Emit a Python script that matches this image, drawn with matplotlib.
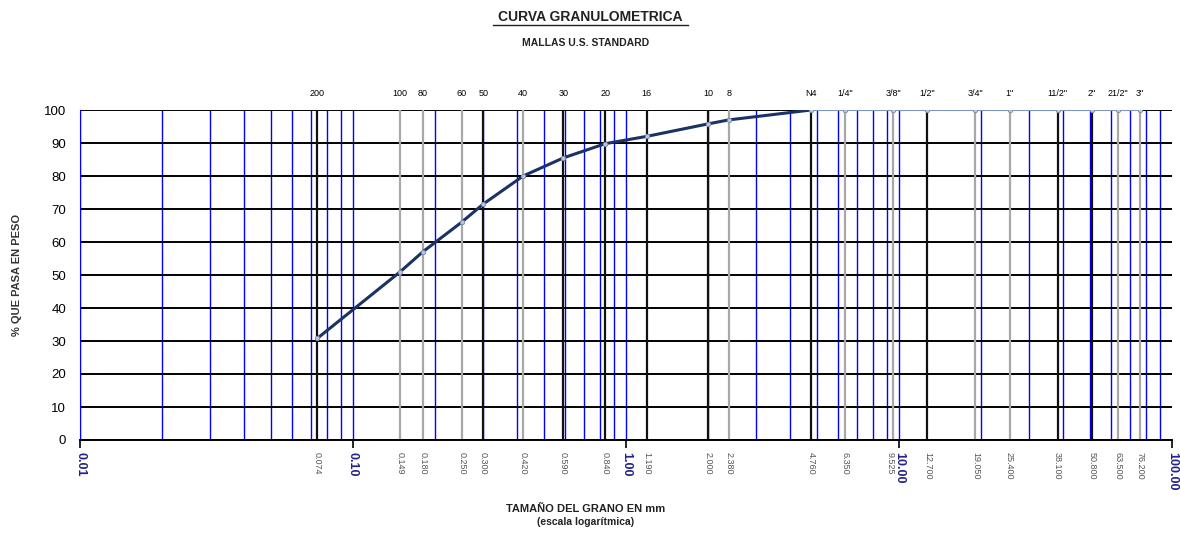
import matplotlib
matplotlib.use("Agg")
import matplotlib.pyplot as plt
import matplotlib.transforms as mtransforms
from matplotlib import font_manager
import numpy as np

# ---------------- data ----------------
sieve_labels = ["200", "100", "80", "60", "50", "40", "30", "20", "16", "10", "8", "N4",
                "1/4\"", "3/8\"", "1/2\"", "3/4\"", "1\"", "11/2\"", "2\"", "21/2\"", "3\""]
sieve_mm = [0.074, 0.149, 0.180, 0.250, 0.300, 0.420, 0.590, 0.840, 1.190, 2.000, 2.380, 4.760,
            6.350, 9.525, 12.700, 19.050, 25.400, 38.100, 50.800, 63.500, 76.200]
sieve_mm_text = ["0.074", "0.149", "0.180", "0.250", "0.300", "0.420", "0.590", "0.840", "1.190",
                 "2.000", "2.380", "4.760", "6.350", "9.525", "12.700", "19.050", "25.400",
                 "38.100", "50.800", "63.500", "76.200"]
pct_pass = [30.8, 51.0, 57.0, 66.0, 71.5, 80.0, 85.5, 89.8, 92.0, 95.8, 97.0, 100.0,
            100.0, 100.0, 100.0, 100.0, 100.0, 100.0, 100.0, 100.0, 100.0]
sieve_dark = [True, False, False, False, True, False, True, True, True, True, False, True,
              False, False, True, False, False, True, True, False, False]
decade_ticks = [0.01, 0.1, 1.0, 10.0, 100.0]
decade_labels = ["0.01", "0.10", "1.00", "10.00", "100.00"]
y_ticks = list(range(0, 101, 10))

# ---------------- fonts ----------------
avail = {f.name for f in font_manager.fontManager.ttflist}
fam = "Liberation Sans Narrow" if "Liberation Sans Narrow" in avail else "Liberation Sans"
plt.rcParams["font.family"] = [fam, "DejaVu Sans"]

fig = plt.figure(figsize=(11.8, 5.34), dpi=100)
ax = fig.add_axes([80 / 1180, 1 - 440 / 534, (1172 - 80) / 1180, 330 / 534])
ax.set_xscale("log")
ax.set_xlim(0.01, 100)
ax.set_ylim(0, 100)

# blue minor grid lines
minor_pos = [m * d for d in [0.01, 0.1, 1, 10] for m in range(1, 10)]
for xv in minor_pos:
    ax.axvline(xv, color="#0000ff", lw=1.0, zorder=1)

# horizontal grid
for yv in y_ticks:
    ax.axhline(yv, color="black", lw=1.4, zorder=2)

# sieve lines
for xv, dark in zip(sieve_mm, sieve_dark):
    ax.axvline(xv, color="#111111" if dark else "#a8a8a8", lw=1.6, zorder=2)

# curve
x = np.array(sieve_mm)
y = np.array(pct_pass)
mask = y < 100
idx_last = int(np.argmax(~mask))
ax.plot(x[:idx_last + 1], y[:idx_last + 1], color="#1b3264", lw=2.2, zorder=5,
        solid_capstyle="round")
ax.plot(x[idx_last:], y[idx_last:], color="#7f93bf", lw=1.5, zorder=5)
ax.plot(x, y, ls="none", marker="o", ms=3.2, mfc="#b8c4dc", mec="#7f8aa6", mew=0.6, zorder=6)

# spines and ticks
for s in ["top", "right"]:
    ax.spines[s].set_visible(False)
ax.spines["left"].set_color("#0000ff")
ax.spines["bottom"].set_color("black")
ax.spines["bottom"].set_linewidth(1.4)

ax.set_xticks(decade_ticks)
ax.set_xticklabels(decade_labels, rotation=270, fontsize=9, fontweight="bold",
                   color="#22228a", va="top", ha="center")
ax.xaxis.set_minor_locator(matplotlib.ticker.NullLocator())
ax.tick_params(axis="x", which="major", direction="out", length=6, width=1.2, color="black", pad=3)

ax.set_yticks(y_ticks)
ax.set_yticklabels([str(v) for v in y_ticks], fontsize=9.5)
ax.tick_params(axis="y", length=0, pad=10)

trans = mtransforms.blended_transform_factory(ax.transData, ax.transAxes)
for xv, lab, txt in zip(sieve_mm, sieve_labels, sieve_mm_text):
    ax.text(xv, 1.035, lab, transform=trans, ha="center", va="bottom", fontsize=6.5)
    dx = -0.6 if txt == "9.525" else 0.0
    off = mtransforms.offset_copy(trans, fig=fig, x=dx * 6, y=0, units="dots")
    ax.text(xv, -0.035, txt, transform=off, ha="center", va="top", fontsize=6.5,
            rotation=270, color="#555555")

# titles / labels
fig.text(590 / 1180, 1 - 17 / 534, "CURVA GRANULOMETRICA", ha="center", va="center",
         fontsize=10, fontweight="bold", color="#222222")
fig.add_artist(plt.Line2D([493 / 1180, 688 / 1180], [1 - 25 / 534] * 2, color="#222222", lw=1))
fig.text(586 / 1180, 1 - 43 / 534, "MALLAS U.S. STANDARD", ha="center", va="center",
         fontsize=7.5, fontweight="bold", color="#222222")
fig.text(17 / 1180, 1 - 275 / 534, "% QUE PASA EN PESO", ha="center", va="center",
         rotation=90, fontsize=8, fontweight="bold", color="#333333")
fig.text(586 / 1180, 1 - 509 / 534, "TAMAÑO DEL GRANO EN mm", ha="center", va="center",
         fontsize=8, fontweight="bold", color="#222222")
fig.text(586 / 1180, 1 - 522 / 534, "(escala logarítmica)", ha="center", va="center",
         fontsize=7.5, fontweight="bold", color="#222222")

fig.savefig("out.png", dpi=100)
